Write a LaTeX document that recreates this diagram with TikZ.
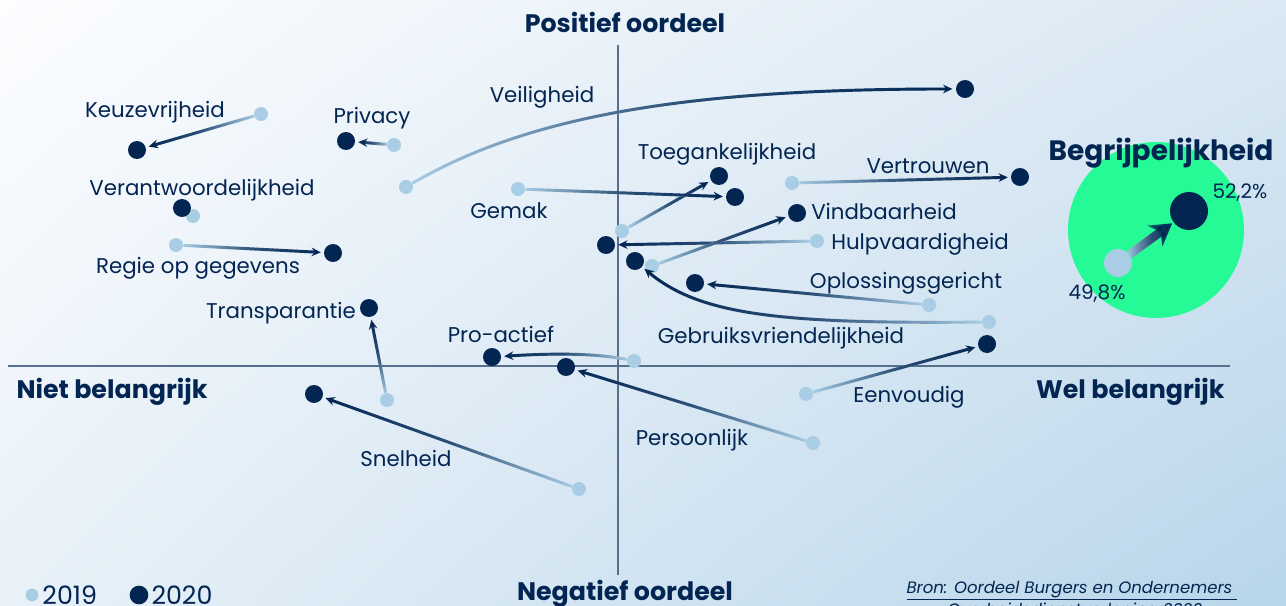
\documentclass[tikz,border=0pt]{standalone}
\usepackage{fontspec}
\setmainfont{Poppins}
\usetikzlibrary{arrows.meta,fadings,shadings,positioning}

\definecolor{donker}{RGB}{3,37,82}
\definecolor{licht}{RGB}{168,205,228}
\definecolor{groen}{RGB}{38,250,150}
\definecolor{aslijn}{RGB}{84,112,142}
\definecolor{bglb}{RGB}{252,253,255}
\definecolor{bgrb}{RGB}{218,232,243}
\definecolor{bglo}{RGB}{232,241,248}
\definecolor{bgro}{RGB}{184,213,234}

\tikzfading[name=naarrechts, left color=transparent!100, right color=transparent!0, middle color=transparent!25]
\tikzfading[name=naarlinks, left color=transparent!0, right color=transparent!100, middle color=transparent!25]
\tikzfading[name=naarboven, top color=transparent!0, bottom color=transparent!100, middle color=transparent!25]

\tikzset{every picture/.style={line width=0.75pt}}
\tikzset{
  nieuw/.style={circle, fill=donker, inner sep=0pt, minimum size=13.5pt},
  oud/.style={circle, fill=licht, inner sep=0pt, minimum size=10.5pt},
  spoor/.style={draw=licht, line width=2.2pt, shorten >=8pt},
  trend/.style={draw=donker, line width=2.2pt, shorten >=2pt, -{Stealth[length=7pt,width=6.5pt]}, path fading=#1},
  lbl/.style={anchor=base, inner sep=0pt, text=donker, font=\fontsize{16}{18}\selectfont},
  aslbl/.style={anchor=base, inner sep=0pt, text=donker, font=\fontsize{19}{22}\selectfont\bfseries},
}

\begin{document}
\begin{tikzpicture}[x=0.75pt,y=0.75pt,yscale=-1,xscale=1]
  \useasboundingbox (0,0) rectangle (1286,606);
  % achtergrond
  \shade[upper left=bglb, upper right=bgrb, lower left=bglo, lower right=bgro] (0,0) rectangle (1286,606);

  % assen
  \coordinate (boven) at (618,45);
  \coordinate (onder) at (618,575);
  \coordinate (links) at (8,366);
  \coordinate (rechts) at (1230,366);
  \draw [aslijn, line width=1.1pt] (boven) -- (onder);
  \draw [aslijn, line width=1.1pt] (links) -- (rechts);

  % Text Node
  \node [aslbl] (positief) at (625,33) {Positief oordeel};
  \node [aslbl] (negatief) at (625,600) {Negatief oordeel};
  \node [aslbl, anchor=base west] (niet) at (16,398) {Niet belangrijk};
  \node [aslbl, anchor=base east] (wel) at (1225,398) {Wel belangrijk};

  % punten 2019
  \node [oud] (keuze19) at (261,114) {};
  \node [oud] (privacy19) at (394,145) {};
  \node [oud] (veilig19) at (406,187) {};
  \node [oud] (verant19) at (193,216) {};
  \node [oud] (regie19) at (176,245) {};
  \node [oud] (transp19) at (387,400) {};
  \node [oud] (pro19) at (634,361) {};
  \node [oud] (snel19) at (579,489) {};
  \node [oud] (pers19) at (813,443) {};
  \node [oud] (eenv19) at (806,394) {};
  \node [oud] (gebr19) at (989,322) {};
  \node [oud] (oplos19) at (929,305) {};
  \node [oud] (hulp19) at (817,241) {};
  \node [oud] (vind19) at (652,266) {};
  \node [oud] (toeg19) at (622,231) {};
  \node [oud] (gemak19) at (518,189) {};
  \node [oud] (vertr19) at (792,183) {};

  % punten 2020
  \node [nieuw] (keuze20) at (137,150) {};
  \node [nieuw] (privacy20) at (346,141) {};
  \node [nieuw] (veilig20) at (965,89) {};
  \node [nieuw] (verant20) at (182,208) {};
  \node [nieuw] (regie20) at (333,253) {};
  \node [nieuw] (transp20) at (369,308) {};
  \node [nieuw] (pro20) at (492,357) {};
  \node [nieuw] (snel20) at (314,394) {};
  \node [nieuw] (pers20) at (566,367) {};
  \node [nieuw] (eenv20) at (987,344) {};
  \node [nieuw] (gebr20) at (635,261) {};
  \node [nieuw] (oplos20) at (695,283) {};
  \node [nieuw] (hulp20) at (606,245) {};
  \node [nieuw] (vind20) at (797,213) {};
  \node [nieuw] (toeg20) at (719,176) {};
  \node [nieuw] (gemak20) at (735,197) {};
  \node [nieuw] (vertr20) at (1020,177) {};

  % verschuivingen
  \foreach \a/\b/\f in {keuze/keuze/naarlinks, privacy/privacy/naarlinks, regie/regie/naarrechts,
      transp/transp/naarboven, snel/snel/naarlinks, pers/pers/naarlinks, eenv/eenv/naarrechts,
      oplos/oplos/naarlinks, hulp/hulp/naarlinks, vind/vind/naarrechts, toeg/toeg/naarrechts,
      gemak/gemak/naarrechts, vertr/vertr/naarrechts}{
    \draw [spoor] (\a19) -- (\b20);
    \draw [trend=\f] (\a19) -- (\b20);
  }
  \draw [spoor] (veilig19) .. controls (530,115) and (690,89) .. (veilig20);
  \draw [trend=naarrechts] (veilig19) .. controls (530,115) and (690,89) .. (veilig20);
  \draw [spoor] (pro19) .. controls (590,352) and (540,354) .. (pro20);
  \draw [trend=naarlinks] (pro19) .. controls (590,352) and (540,354) .. (pro20);
  \draw [spoor] (gebr19) .. controls (780,324) and (700,315) .. (gebr20);
  \draw [trend=naarlinks] (gebr19) .. controls (780,324) and (700,315) .. (gebr20);

  % Text Node
  \node [lbl] (lkeuze) at (155,118) {Keuzevrijheid};
  \node [lbl] (lprivacy) at (372,124) {Privacy};
  \node [lbl] (lveilig) at (542,103) {Veiligheid};
  \node [lbl] (lverant) at (202,196) {Verantwoordelijkheid};
  \node [lbl] (lregie) at (198,273) {Regie op gegevens};
  \node [lbl] (lgemak) at (509,219) {Gemak};
  \node [lbl] (ltoeg) at (727,160) {Toegankelijkheid};
  \node [lbl] (lvertr) at (928,174) {Vertrouwen};
  \node [lbl] (lvind) at (884,220) {Vindbaarheid};
  \node [lbl] (lhulp) at (920,249) {Hulpvaardigheid};
  \node [lbl] (loplos) at (906,288) {Oplossingsgericht};
  \node [lbl] (lgebr) at (781,343) {Gebruiksvriendelijkheid};
  \node [lbl] (ltransp) at (281,318) {Transparantie};
  \node [lbl] (lpro) at (501,342) {Pro-actief};
  \node [lbl] (leenv) at (909,402) {Eenvoudig};
  \node [lbl] (lpers) at (692,445) {Persoonlijk};
  \node [lbl] (lsnel) at (406,466) {Snelheid};

  % Begrijpelijkheid
  \node [circle, fill=groen, inner sep=0pt, minimum size=132pt] (begrip) at (1156,230) {};
  \node [aslbl, font=\fontsize{21}{24}\selectfont\bfseries] (lbegrip) at (1161,161) {Begrijpelijkheid};
  \node [oud, minimum size=21pt] (begrip19) at (1118,263) {};
  \node [nieuw, minimum size=28.5pt] (begrip20) at (1189,211) {};
  \draw [licht, line width=6.5pt, shorten >=14pt] (begrip19) -- (begrip20);
  \draw [donker, line width=6.5pt, shorten >=1pt, -{Stealth[length=16pt,width=19pt]}, path fading=naarrechts] (begrip19) -- (begrip20);
  \node [lbl, font=\fontsize{15}{18}\selectfont] (p20) at (1240,199) {52,2\%};
  \node [lbl, font=\fontsize{15}{18}\selectfont] (p19) at (1097,300) {49,8\%};

  % legenda
  \node [oud, minimum size=9.5pt] (leg19) at (32,595) {};
  \node [lbl, anchor=base west, font=\fontsize{19}{21}\selectfont] (tleg19) at (42,604) {2019};
  \node [nieuw, minimum size=14pt] (leg20) at (139,595) {};
  \node [lbl, anchor=base west, font=\fontsize{19}{21}\selectfont] (tleg20) at (151,604) {2020};

  % bron
  \node [lbl, anchor=base west, font=\fontsize{12.4}{15}\selectfont\itshape] (bron) at (906,593) {\underline{Bron: Oordeel Burgers en Ondernemers\ }};
  \node [lbl, font=\fontsize{12.4}{15}\selectfont\itshape] (bron2) at (1075,615) {Overheidsdienstverlening 2020};
\end{tikzpicture}
\end{document}
